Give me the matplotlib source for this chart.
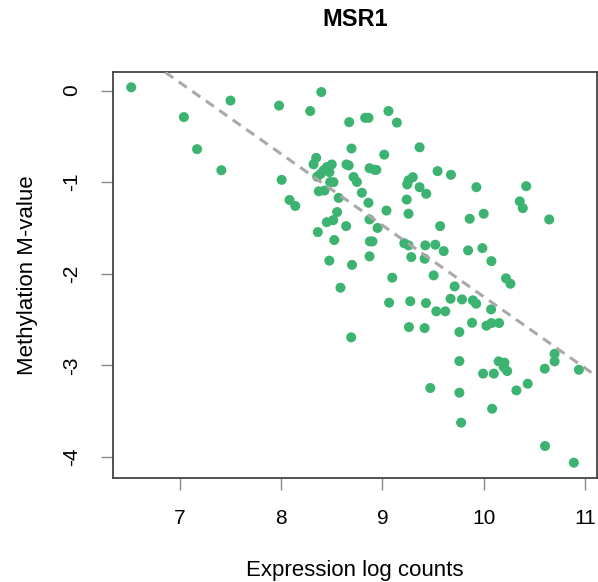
import matplotlib
matplotlib.use("Agg")
import matplotlib.pyplot as plt

plt.rcParams['font.family'] = ['Liberation Sans', 'DejaVu Sans']

# expression (log counts) and methylation M-values
expr = [6.52, 7.04, 7.17, 7.41, 7.50, 7.98, 8.005, 8.083, 8.14, 8.287,
        8.397, 8.346, 8.32, 8.356, 8.372, 8.428, 8.418, 8.451, 8.50, 8.477,
        8.517, 8.484, 8.568, 8.553, 8.451, 8.514, 8.362, 8.525, 8.476, 8.642,
        8.645, 8.667, 8.672, 8.695, 8.70, 8.586, 8.692, 8.715, 8.748, 8.797,
        8.862, 8.873, 8.876, 8.902, 8.873, 8.952, 8.873, 8.922, 8.94, 8.830,
        8.863, 9.018, 9.06, 9.143, 9.04, 9.097, 9.066, 9.216, 9.258, 9.285,
        9.24, 9.245, 9.258, 9.30, 9.258, 9.275, 9.262, 9.367, 9.367, 9.433,
        9.417, 9.423, 9.43, 9.417, 9.473, 9.506, 9.522, 9.532, 9.545, 9.57,
        9.605, 9.621, 9.677, 9.673, 9.713, 9.76, 9.76, 9.76, 9.777, 9.786,
        9.846, 9.862, 9.893, 9.926, 9.885, 9.928, 9.987, 10.0, 9.994, 10.027,
        10.076, 10.152, 10.073, 10.076, 10.083, 10.10, 10.148, 10.205, 10.198, 10.232,
        10.22, 10.264, 10.323, 10.356, 10.386, 10.42, 10.435, 10.603, 10.606, 10.647,
        10.70, 10.70, 10.89, 10.94, 8.39]
mval = [0.035, -0.29, -0.64, -0.87, -0.11, -0.165, -0.975, -1.195, -1.26, -0.224,
        -0.017, -0.735, -0.805, -0.94, -1.10, -1.092, -0.873, -0.836, -0.807, -0.891,
        -1.0, -1.0, -1.172, -1.327, -1.437, -1.415, -1.545, -1.632, -1.857, -1.48,
        -0.807, -0.818, -0.345, -0.633, -1.903, -2.152, -2.694, -0.944, -0.998, -1.116,
        -1.225, -1.407, -1.647, -1.647, -1.81, -1.50, -0.848, -0.865, -0.866, -0.298,
        -0.298, -0.70, -0.224, -0.35, -1.31, -2.043, -2.316, -1.667, -1.69, -1.818,
        -1.19, -1.025, -0.98, -0.946, -1.345, -2.30, -2.582, -0.62, -1.055, -1.127,
        -1.836, -1.69, -2.32, -2.593, -3.247, -2.018, -1.683, -2.41, -0.88, -1.48,
        -1.753, -2.41, -0.92, -2.273, -2.138, -2.636, -2.953, -3.298, -3.625, -2.28,
        -1.745, -1.40, -2.29, -2.327, -2.535, -1.055, -1.72, -1.345, -3.09, -2.567,
        -2.538, -2.538, -2.389, -1.862, -3.473, -3.09, -2.956, -2.97, -3.018, -3.062,
        -2.05, -2.109, -3.273, -1.21, -1.284, -1.044, -3.20, -3.036, -3.88, -1.407,
        -2.956, -2.873, -4.062, -3.048, -0.91]

# fitted line
fit_intercept = 5.54
fit_slope = -0.779

xticks = [7, 8, 9, 10, 11]
yticks = [0, -1, -2, -3, -4]


def main():
    fig = plt.figure(figsize=(5.98, 5.82), dpi=100)
    ax = fig.add_axes([0.1895, 0.1792, 0.8085, 0.6966])

    ax.scatter(expr, mval, s=52, color="#3CB371", edgecolors="none", zorder=2)
    ax.axline((0, fit_intercept), slope=fit_slope, color="#A9A9A9",
              linewidth=2.2, dashes=(3.2, 2.2), zorder=3)

    # R-style 4% padding
    xr = max(expr) - min(expr)
    yr = max(mval) - min(mval)
    ax.set_xlim(min(expr) - 0.04 * xr, max(expr) + 0.04 * xr)
    ax.set_ylim(min(mval) - 0.04 * yr, max(mval) + 0.04 * yr)

    ax.set_xticks(xticks)
    ax.set_yticks(yticks)
    ax.set_yticklabels([str(t) for t in yticks], rotation=90, va="center")
    ax.tick_params(axis="x", length=8.5, width=1, color="#888888",
                   labelsize=15, pad=14)
    ax.tick_params(axis="y", length=8.5, width=1, color="#888888",
                   labelsize=15, pad=15)
    for s in ax.spines.values():
        s.set_color("#444444")
        s.set_linewidth(1.3)

    ax.set_xlabel("Expression log counts", fontsize=16, va="center")
    ax.xaxis.set_label_coords(0.5, -0.2277)
    ax.set_ylabel("Methylation M-value", fontsize=16, va="center")
    ax.yaxis.set_label_coords(-0.1785, 0.5)

    fig.text(355 / 598, 1 - 20 / 582, "MSR1", ha="center", va="center",
             fontsize=17, fontweight="bold")

    fig.savefig("out.png", dpi=100)


if __name__ == "__main__":
    main()
